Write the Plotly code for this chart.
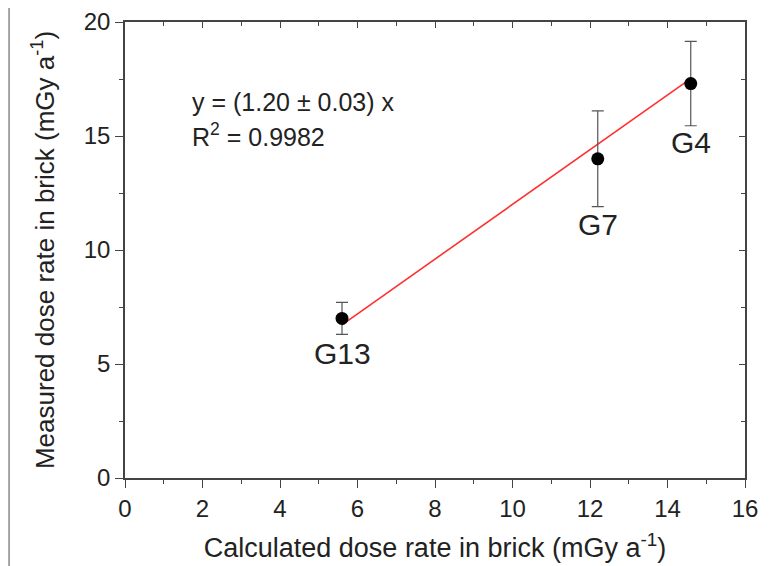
import plotly.graph_objects as go

calc = [5.6, 12.2, 14.6]
meas = [7.0, 14.0, 17.3]
err = [0.7, 2.1, 1.85]
names = ["G13", "G7", "G4"]
label_y = [5.45, 11.1, 14.7]
fit_x = [5.6, 14.6]
slope = 1.20

FONT = "Liberation Sans, Arial, sans-serif"
TXT = "#222"

fig = go.Figure()
fig.add_trace(go.Scatter(
    x=fit_x, y=[slope * v for v in fit_x], mode="lines",
    line=dict(color="#ff3030", width=1.6), showlegend=False, hoverinfo="skip"))
fig.add_trace(go.Scatter(
    x=calc, y=meas, mode="markers",
    marker=dict(color="black", size=13),
    error_y=dict(type="data", array=err, color="#555", thickness=1.2, width=6),
    showlegend=False))
fig.add_trace(go.Scatter(x=[0], y=[0], xaxis="x2", yaxis="y2", mode="markers",
                         marker=dict(opacity=0), showlegend=False, hoverinfo="skip"))

for n, x, y in zip(names, calc, label_y):
    fig.add_annotation(x=x, y=y, text=n, showarrow=False,
                       font=dict(family=FONT, size=30, color=TXT))

fig.add_annotation(xref="paper", yref="paper", x=0.105, y=0.825, xanchor="left",
                   yanchor="middle", showarrow=False, align="left",
                   text="y = (1.20 ± 0.03) x",
                   font=dict(family=FONT, size=25, color=TXT))
fig.add_annotation(xref="paper", yref="paper", x=0.105, y=0.753, xanchor="left",
                   yanchor="middle", showarrow=False, align="left",
                   text="R<sup>2</sup> = 0.9982",
                   font=dict(family=FONT, size=25, color=TXT))

axis_common = dict(showgrid=False, zeroline=False, showline=True,
                   linecolor="#444", linewidth=1.5, automargin=False)

fig.update_layout(
    width=780, height=566,
    margin=dict(l=117, r=43, t=14, b=96),
    plot_bgcolor="white", paper_bgcolor="white",
    font=dict(family=FONT, color=TXT, size=24),
    xaxis=dict(range=[0, 16], dtick=2, tick0=0, ticks="outside", ticklen=8,
               tickcolor="#444", tickwidth=1.2, ticklabeloverflow="allow",
               minor=dict(dtick=1, ticks="outside", ticklen=4, tickcolor="#444"),
               tickfont=dict(family=FONT, size=24, color=TXT),
               title=dict(text="Calculated dose rate in brick (mGy a<sup>-1</sup>)",
                          font=dict(size=27, color=TXT), standoff=18),
               **axis_common),
    yaxis=dict(range=[0, 20], dtick=5, tick0=0, ticks="outside", ticklen=8,
               tickcolor="#444", tickwidth=1.2, ticklabeloverflow="allow",
               minor=dict(dtick=2.5, ticks="outside", ticklen=4, tickcolor="#444"),
               tickfont=dict(family=FONT, size=24, color=TXT),
               title=dict(text="Measured dose rate in brick (mGy a<sup>-1</sup>)",
                          font=dict(size=26, color=TXT), standoff=22),
               **axis_common),
    xaxis2=dict(range=[0, 16], dtick=2, tick0=0, overlaying="x", side="top",
                anchor="y2", ticks="inside", ticklen=6, tickcolor="#444",
                minor=dict(dtick=1, ticks="inside", ticklen=4, tickcolor="#444"),
                showticklabels=False, **axis_common),
    yaxis2=dict(range=[0, 20], dtick=5, tick0=0, overlaying="y", side="right",
                anchor="x2", ticks="inside", ticklen=6, tickcolor="#444",
                minor=dict(dtick=2.5, ticks="inside", ticklen=4, tickcolor="#444"),
                showticklabels=False, **axis_common),
)

fig.add_shape(type="line", xref="paper", yref="paper", x0=-0.187, x1=-0.187,
              y0=-0.22, y1=1.04, line=dict(color="#888", width=1.5))

fig.write_html("out.html")
